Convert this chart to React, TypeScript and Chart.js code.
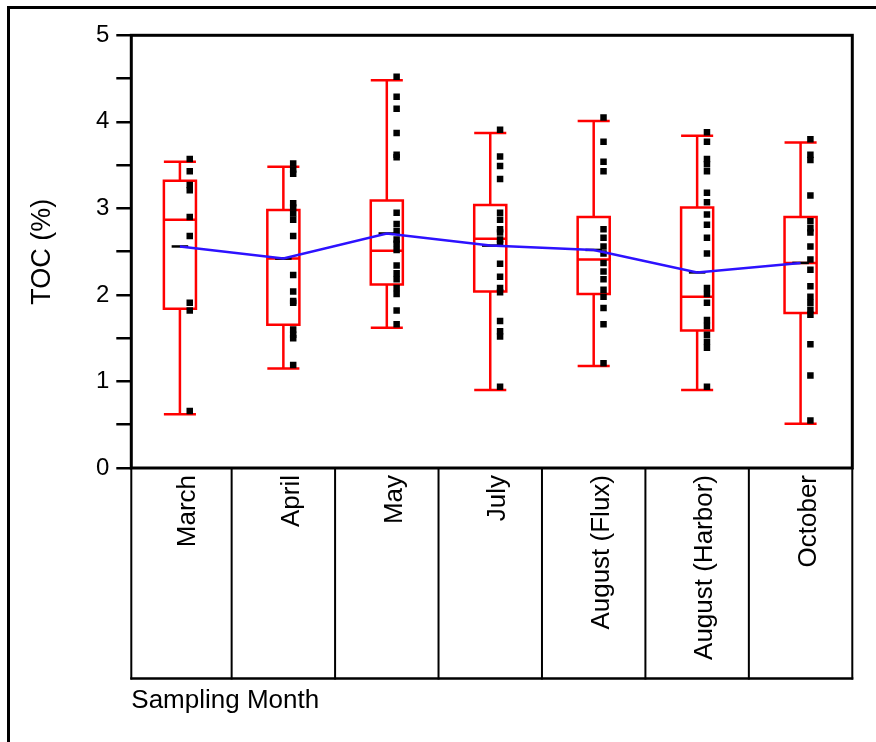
import React, { useEffect, useRef } from 'react';
import { Chart, registerables } from 'chart.js';

Chart.register(...registerables);

// ---- data ----
const months = ['March', 'April', 'May', 'July', 'August (Flux)', 'August (Harbor)', 'October'];
const whiskerLow = [0.62, 1.15, 1.62, 0.9, 1.18, 0.9, 0.51];
const q1 = [1.84, 1.655, 2.12, 2.04, 2.01, 1.59, 1.79];
const median = [2.87, 2.42, 2.51, 2.65, 2.41, 1.98, 2.37];
const q3 = [3.32, 2.98, 3.09, 3.04, 2.9, 3.01, 2.9];
const whiskerHigh = [3.54, 3.48, 4.48, 3.87, 4.01, 3.84, 3.76];
const means = [2.56, 2.42, 2.71, 2.57, 2.52, 2.26, 2.37];

const marchPts = [3.57, 3.43, 3.27, 3.21, 2.9, 2.68, 1.91, 1.82, 0.66];
const aprilPts = [3.52, 3.45, 3.4, 3.06, 3.01, 2.94, 2.87, 2.68, 2.23, 2.04, 1.93, 1.91, 1.6, 1.54, 1.5, 1.19];
const mayPts = [4.52, 4.29, 4.15, 3.87, 3.62, 3.59, 2.95, 2.82, 2.74, 2.64, 2.59, 2.52, 2.34, 2.25, 2.18, 2.08, 2.01, 1.82, 1.66];
const julyPts = [3.91, 3.6, 3.49, 3.34, 2.95, 2.87, 2.76, 2.72, 2.64, 2.59, 2.36, 2.21, 2.08, 2.03, 1.7, 1.58, 1.52, 0.94];
const augFluxPts = [4.05, 3.77, 3.54, 3.43, 2.76, 2.66, 2.56, 2.48, 2.37, 2.27, 2.18, 2.06, 1.98, 1.85, 1.66, 1.21];
const augHarborPts = [3.88, 3.77, 3.57, 3.51, 3.43, 3.18, 3.07, 2.93, 2.81, 2.66, 2.48, 2.08, 2.01, 1.91, 1.71, 1.64, 1.54, 1.46, 1.39, 0.94];
const octoberPts = [3.8, 3.62, 3.56, 3.15, 2.85, 2.77, 2.72, 2.56, 2.41, 2.29, 2.1, 1.98, 1.91, 1.83, 1.77, 1.43, 1.07, 0.55];
const monthPoints = [marchPts, aprilPts, mayPts, julyPts, augFluxPts, augHarborPts, octoberPts];

const yMin = 0;
const yMax = 5;
const yStep = 0.5;

// ---- style ----
const BOX_HALF = 0.155;
const DASH_HALF = 0.08;
const PT_OFFSET = 0.095;
const FONT = '"Liberation Sans", Arial, Helvetica, sans-serif';

const boxPlugin = {
  id: 'boxplot',
  beforeDraw(chart: any) {
    const { ctx } = chart;
    ctx.save();
    ctx.fillStyle = '#000';
    ctx.fillRect(7, 6, 3, chart.height);
    ctx.fillRect(7, 6, chart.width, 3);
    ctx.restore();
  },
  beforeDatasetsDraw(chart: any) {
    const { ctx } = chart;
    const x = chart.scales.x;
    const y = chart.scales.y;
    const py = (v: number) => y.getPixelForValue(v);
    ctx.save();
    ctx.strokeStyle = '#ff0000';
    ctx.lineWidth = 2.5;
    months.forEach((_, i) => {
      const l = x.getPixelForValue(i - BOX_HALF);
      const r = x.getPixelForValue(i + BOX_HALF);
      const c = x.getPixelForValue(i);
      ctx.beginPath();
      ctx.rect(l, py(q3[i]), r - l, py(q1[i]) - py(q3[i]));
      ctx.moveTo(l, py(median[i]));
      ctx.lineTo(r, py(median[i]));
      ctx.moveTo(c, py(q3[i]));
      ctx.lineTo(c, py(whiskerHigh[i]));
      ctx.moveTo(l, py(whiskerHigh[i]));
      ctx.lineTo(r, py(whiskerHigh[i]));
      ctx.moveTo(c, py(q1[i]));
      ctx.lineTo(c, py(whiskerLow[i]));
      ctx.moveTo(l, py(whiskerLow[i]));
      ctx.lineTo(r, py(whiskerLow[i]));
      ctx.stroke();
    });
    ctx.strokeStyle = '#000';
    ctx.lineWidth = 2.5;
    months.forEach((_, i) => {
      ctx.beginPath();
      ctx.moveTo(x.getPixelForValue(i - DASH_HALF), py(means[i]));
      ctx.lineTo(x.getPixelForValue(i + DASH_HALF), py(means[i]));
      ctx.stroke();
    });
    ctx.restore();
  },
  afterDraw(chart: any) {
    const { ctx, chartArea: a } = chart;
    const x = chart.scales.x;
    const tableBottom = 678.5;
    ctx.save();
    ctx.strokeStyle = '#000';
    ctx.lineWidth = 2;
    ctx.beginPath();
    const bounds = [a.left];
    for (let i = 0; i < months.length - 1; i++) bounds.push(x.getPixelForValue(i + 0.5));
    bounds.push(a.right);
    bounds.forEach((bx) => {
      ctx.moveTo(bx, a.bottom);
      ctx.lineTo(bx, tableBottom + 1);
    });
    ctx.stroke();
    ctx.lineWidth = 2.5;
    ctx.beginPath();
    ctx.moveTo(a.left - 1, tableBottom);
    ctx.lineTo(a.right + 1, tableBottom);
    ctx.stroke();
    ctx.lineWidth = 3;
    ctx.strokeRect(a.left, a.top, a.right - a.left, a.bottom - a.top);
    ctx.restore();
  },
};

export default function App() {
  const ref = useRef<HTMLCanvasElement | null>(null);

  useEffect(() => {
    if (!ref.current) return;
    const pointData: { x: number; y: number }[] = [];
    monthPoints.forEach((pts, i) => pts.forEach((v) => pointData.push({ x: i + PT_OFFSET, y: v })));

    const chart = new Chart(ref.current, {
      type: 'scatter',
      data: {
        datasets: [
          {
            type: 'line',
            label: 'Mean',
            data: means.map((m, i) => ({ x: i, y: m })),
            borderColor: '#2d12ff',
            borderWidth: 2.5,
            pointRadius: 0,
            tension: 0,
            fill: false,
          } as any,
          {
            type: 'scatter',
            label: 'Samples',
            data: pointData,
            backgroundColor: '#000',
            borderColor: '#000',
            borderWidth: 0,
            pointStyle: 'rect',
            pointRadius: 4.6,
          },
        ],
      },
      options: {
        animation: false,
        responsive: false,
        devicePixelRatio: 1,
        layout: { padding: { top: 35.3, right: 23.7, left: 0, bottom: 0 } },
        plugins: { legend: { display: false }, tooltip: { enabled: false } },
        scales: {
          x: {
            type: 'linear',
            position: 'bottom',
            min: -0.47,
            max: 6.5,
            afterBuildTicks: (axis: any) => {
              axis.ticks = months.map((_, i) => ({ value: i }));
            },
            afterFit: (s: any) => {
              s.height = 274;
            },
            grid: { display: false, drawTicks: false },
            border: { display: false },
            ticks: {
              autoSkip: false,
              maxRotation: 90,
              minRotation: 90,
              padding: 7,
              labelOffset: 8,
              color: '#000',
              font: { family: FONT, size: 26 },
              callback: (v: any) => months[v] ?? '',
            },
            title: {
              display: true,
              text: 'Sampling Month',
              align: 'start',
              color: '#000',
              font: { family: FONT, size: 26 },
              padding: { top: 0, bottom: 26 },
            },
          },
          y: {
            type: 'linear',
            min: yMin,
            max: yMax,
            afterFit: (s: any) => {
              s.width = 131.3;
            },
            grid: {
              drawOnChartArea: false,
              drawTicks: true,
              tickLength: 15,
              lineWidth: 2.5,
              color: '#000',
            },
            border: { display: false },
            ticks: {
              stepSize: yStep,
              padding: 7,
              color: '#000',
              font: { family: FONT, size: 24 },
              callback: (v: any) => (Number.isInteger(v) ? String(v) : ''),
            },
            title: {
              display: true,
              text: 'TOC (%)',
              color: '#000',
              font: { family: FONT, size: 27 },
              padding: { top: 26, bottom: 0 },
            },
          },
        },
      },
      plugins: [boxPlugin],
    } as any);
    return () => chart.destroy();
  }, []);

  return (
    <div style={{ position: 'absolute', left: 0, top: 0, width: 876, height: 742, background: '#fff' }}>
      <canvas ref={ref} width={876} height={742} style={{ width: 876, height: 742, display: 'block' }} />
    </div>
  );
}
